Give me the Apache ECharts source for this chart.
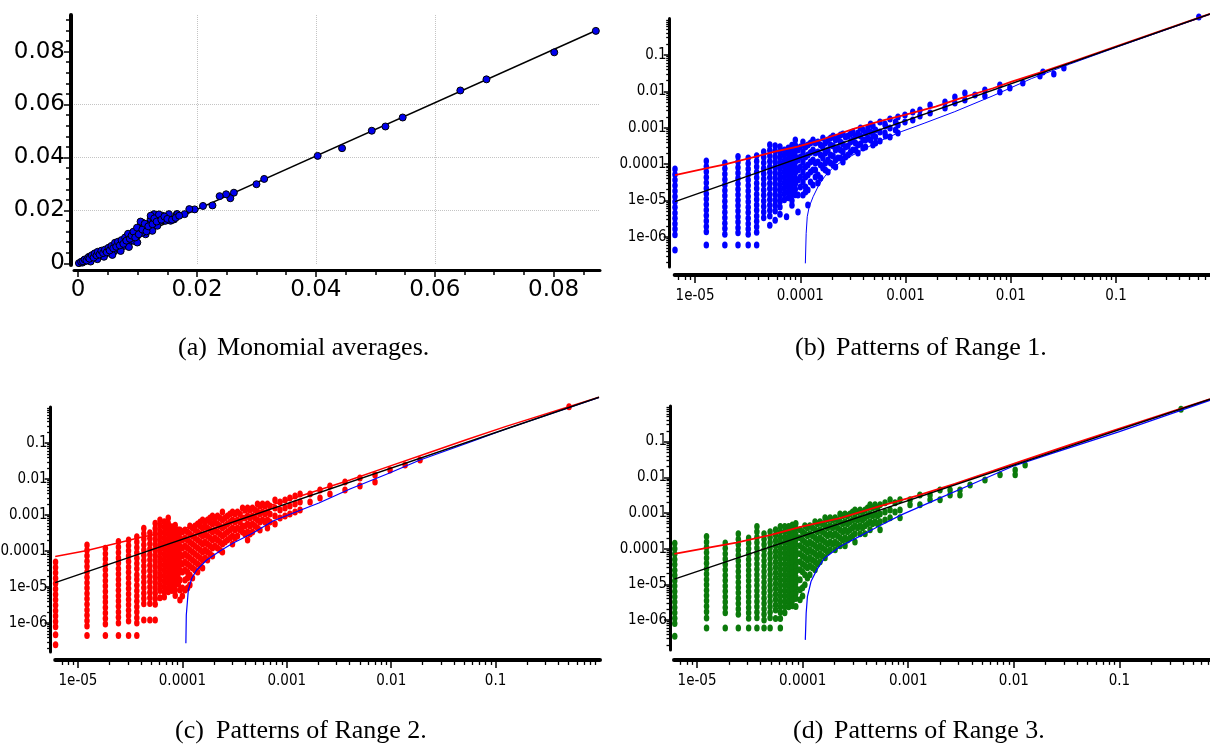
<!DOCTYPE html>
<html><head><meta charset="utf-8">
<script src="https://cdn.jsdelivr.net/npm/echarts@6/dist/echarts.min.js"></script>
<style>html,body{margin:0;padding:0;background:#fff;}#c{width:1210px;height:744px;}</style>
</head><body><div id="c"></div>
<script>
// ---------- tick labels ----------
const aTicks = [0, 0.02, 0.04, 0.06, 0.08];
const logXTicks = [1e-5, 1e-4, 1e-3, 1e-2, 1e-1];
const logYTicks = [1e-6, 1e-5, 1e-4, 1e-3, 1e-2, 1e-1];
const logMinorTicks = [2e-7,3e-7,4e-7,5e-7,6e-7,7e-7,8e-7,9e-7,2e-6,3e-6,4e-6,5e-6,6e-6,7e-6,8e-6,9e-6,
  2e-5,3e-5,4e-5,5e-5,6e-5,7e-5,8e-5,9e-5,2e-4,3e-4,4e-4,5e-4,6e-4,7e-4,8e-4,9e-4,
  2e-3,3e-3,4e-3,5e-3,6e-3,7e-3,8e-3,9e-3,0.02,0.03,0.04,0.05,0.06,0.07,0.08,0.09,0.2,0.3,0.4,0.5,0.6,0.7,0.8,0.9];
const captions = [
  ['(a)', 'Monomial averages.'],
  ['(b)', 'Patterns of Range 1.'],
  ['(c)', 'Patterns of Range 2.'],
  ['(d)', 'Patterns of Range 3.']
];

// ---------- panel (a) ----------
const aPoints = [
 [0.0871,0.0878],[0.0801,0.0797],[0.0687,0.0695],[0.0643,0.0653],[0.0546,0.0551],[0.0517,0.0517],[0.0494,0.0501],[0.0444,0.0435],[0.0403,0.0406],[0.0313,0.0319],[0.0300,0.0299],[0.0262,0.0267],[0.0256,0.0246],[0.0249,0.0261],[0.0238,0.0254],[0.0226,0.0219],[0.0210,0.0217],[0.0196,0.0204],[0.0187,0.0205],[0.0179,0.0186],[0.0166,0.0186],[0.0161,0.0166],
 [0.00013,0.0001],[0.00071,0.0003],[0.00126,0.0009],[0.00155,0.0016],[0.0021,0.002],[0.00098,0.0012],[0.00182,0.0025],[0.00239,0.0028],[0.00266,0.0035],[0.00323,0.0037],[0.00294,0.0025],[0.00378,0.0041],[0.00434,0.0043],[0.0035,0.0028],[0.00407,0.0035],[0.00491,0.0047],[0.00546,0.005],[0.00462,0.0037],[0.00518,0.0041],[0.00575,0.0054],[0.00602,0.0045],[0.00659,0.006],[0.00631,0.007],[0.00715,0.0073],[0.00686,0.0054],[0.0077,0.0066],[0.00743,0.0083],[0.00799,0.0091],[0.00827,0.0104],[0.00854,0.0079],[0.00883,0.011],[0.00911,0.0098],[0.00938,0.0085],[0.00967,0.0116],[0.00995,0.0104],[0.01022,0.0123],[0.01051,0.0142],[0.0108,0.0154],[0.01106,0.0135],[0.01135,0.011],[0.01164,0.0148],[0.0119,0.0129],[0.01219,0.0167],[0.01248,0.0123],[0.01275,0.0186],[0.01303,0.0154],[0.01332,0.0142],[0.01359,0.0173],[0.01387,0.0161],[0.01416,0.018],[0.01443,0.0167],[0.01471,0.0161],[0.015,0.0173],[0.01527,0.0186],[0.01555,0.0161],[0.01611,0.0167],[0.01668,0.0186],[0.01275,0.0161],[0.0108,0.0116],[0.00995,0.0079],[0.00854,0.0062],[0.00715,0.0047],[0.00575,0.0032],[0.00434,0.0025],[0.00323,0.0016],[0.0021,0.0007],
 [0.0005,0.0006],[0.0008,0.0008],[0.0011,0.0015],[0.0014,0.0011],[0.0017,0.0022],[0.0019,0.0018],[0.0023,0.0031],[0.0026,0.0022],[0.0028,0.0038],[0.0031,0.0030],[0.0033,0.0044],[0.0036,0.0034],[0.0039,0.0048],[0.0042,0.0039],[0.0045,0.0052],[0.0048,0.0042],[0.0051,0.0059],[0.0053,0.0049],[0.0056,0.0066],[0.0059,0.0057],[0.0062,0.0078],[0.0064,0.0063],[0.0067,0.0082],[0.0070,0.0068],[0.0073,0.0088],[0.0076,0.0074],[0.0079,0.0098],[0.0081,0.0086],[0.0084,0.0112],[0.0087,0.0093],[0.0090,0.0105],[0.0093,0.0120],[0.0096,0.0098],[0.0099,0.0135],[0.0102,0.0110],[0.0105,0.0158],[0.0108,0.0128],[0.0112,0.0150],[0.0115,0.0121],[0.0118,0.0140],[0.0122,0.0180],[0.0125,0.0148],[0.0128,0.0170],[0.0132,0.0158],[0.0136,0.0185],[0.0140,0.0165],[0.0145,0.0177],[0.0150,0.0168],[0.0158,0.0165],[0.0164,0.0172],[0.0170,0.0180]
];
const aLine = [[0, 0.0003], [0.0876, 0.0884]];

// ---------- panel (b) ----------
const bColX = [6.45e-6,1.28e-5,1.92e-5,2.56e-5,3.2e-5,3.85e-5,4.49e-5,5.13e-5,5.77e-5,6.41e-5,7.05e-5,7.69e-5,8.33e-5,8.97e-5];
const bColY = [
 [7.4e-5,5.2e-5,3.7e-5,2.6e-5,1.85e-5,1.3e-5,9.3e-6,6.6e-6,4.6e-6,3.3e-6,2.3e-6,1.65e-6,1.15e-6,4.4e-7],
 [1.23e-4,8.7e-5,6.2e-5,4.4e-5,3.1e-5,2.2e-5,1.55e-5,1.1e-5,7.8e-6,5.5e-6,3.9e-6,2.75e-6,1.95e-6,1.4e-6,6e-7],
 [1.08e-4,7.6e-5,5.4e-5,3.8e-5,2.7e-5,1.9e-5,1.35e-5,9.6e-6,6.8e-6,4.8e-6,3.4e-6,2.4e-6,1.7e-6,1.2e-6,6e-7],
 [1.62e-4,1.15e-4,8.1e-5,5.7e-5,4.1e-5,2.9e-5,2.05e-5,1.45e-5,1.03e-5,7.3e-6,5.2e-6,3.6e-6,2.6e-6,1.8e-6,1.3e-6,6e-7],
 [1.48e-4,1.05e-4,7.4e-5,5.2e-5,3.7e-5,2.6e-5,1.85e-5,1.3e-5,9.3e-6,6.6e-6,4.7e-6,3.3e-6,2.3e-6,1.65e-6,1.2e-6,6e-7],
 [1.7e-4,1.2e-4,8.5e-5,6e-5,4.3e-5,3e-5,2.15e-5,1.5e-5,1.07e-5,7.6e-6,5.4e-6,3.8e-6,2.7e-6,1.9e-6,1.35e-6,6e-7],
 [2.2e-4,1.55e-4,1.1e-4,7.8e-5,5.5e-5,3.9e-5,2.8e-5,1.95e-5,1.4e-5,9.8e-6,6.9e-6,4.9e-6,3.4e-6],
 [3.4e-4,2.4e-4,1.7e-4,1.2e-4,8.5e-5,6e-5,4.3e-5,3e-5,2.15e-5,1.5e-5,1.07e-5,7.6e-6,5.4e-6,3.8e-6,2.1e-6],
 [3.2e-4,2.3e-4,1.6e-4,1.15e-4,8.1e-5,5.7e-5,4.1e-5,2.9e-5,2.05e-5,1.45e-5,1.03e-5,7.3e-6,5.2e-6,2.9e-6],
 [3e-4,2.1e-4,1.5e-4,1.06e-4,7.5e-5,5.3e-5,3.8e-5,2.7e-5,1.9e-5,1.33e-5,9.4e-6,6.7e-6,4.2e-6],
 [2.45e-4,1.75e-4,1.25e-4,8.8e-5,6.2e-5,4.4e-5,3.1e-5,2.2e-5,1.55e-5,1.05e-5],
 [2.8e-4,2e-4,1.4e-4,1e-4,7e-5,5e-5,3.5e-5,2.5e-5,1.75e-5,1.2e-5],
 [3.3e-4,2.3e-4,1.65e-4,1.15e-4,8.2e-5,5.8e-5,4.1e-5,2.9e-5,2.05e-5,1.45e-5,1e-5,7.4e-6],
 [4.6e-4,3.3e-4,2.3e-4,1.65e-4,1.15e-4,8.2e-5,5.8e-5,4.1e-5,2.9e-5,2.05e-5,1.45e-5]
];
const bCloud = [
 [9.51e-5,2.45e-4],[9.51e-5,1.30e-4],[9.51e-5,6.93e-5],[9.51e-5,3.68e-5],[9.51e-5,1.43e-5],[9.51e-5,4.86e-6],
 [1.0e-4,2.97e-4],[1.0e-4,1.58e-4],[1.0e-4,8.37e-5],[1.0e-4,4.45e-5],[1.0e-4,2.36e-5],
 [1.06e-4,4.07e-4],[1.06e-4,2.16e-4],[1.06e-4,1.15e-4],[1.06e-4,6.11e-5],[1.06e-4,3.24e-5],[1.06e-4,1.43e-5],
 [1.12e-4,2.97e-4],[1.12e-4,1.58e-4],[1.12e-4,8.37e-5],[1.12e-4,4.45e-5],[1.12e-4,2.36e-5],[1.12e-4,1.72e-5],
 [1.18e-4,3.37e-4],[1.18e-4,1.79e-4],[1.18e-4,9.51e-5],[1.18e-4,5.05e-5],[1.18e-4,1.95e-5],[1.18e-4,7.57e-6],
 [1.25e-4,3.82e-4],[1.25e-4,2.09e-4],[1.25e-4,1.15e-4],[1.25e-4,6.11e-5],[1.25e-4,3.24e-5],
 [1.32e-4,4.62e-4],[1.32e-4,2.45e-4],[1.32e-4,1.30e-4],[1.32e-4,6.93e-5],[1.32e-4,2.68e-5],
 [1.39e-4,3.82e-4],[1.39e-4,2.03e-4],[1.39e-4,1.08e-4],[1.39e-4,6.93e-5],[1.39e-4,4.45e-5],
 [1.47e-4,4.07e-4],[1.47e-4,2.16e-4],[1.47e-4,1.15e-4],[1.47e-4,5.05e-5],[1.47e-4,3.05e-5],
 [1.56e-4,3.37e-4],[1.56e-4,1.79e-4],[1.56e-4,9.51e-5],[1.56e-4,4.18e-5],
 [1.64e-4,5.25e-4],[1.64e-4,2.79e-4],[1.64e-4,1.48e-4],[1.64e-4,7.86e-5],
 [1.73e-4,3.82e-4],[1.73e-4,2.03e-4],[1.73e-4,1.08e-4],[1.73e-4,6.93e-5],
 [1.83e-4,4.62e-4],[1.83e-4,2.45e-4],[1.83e-4,1.30e-4],[1.83e-4,6.11e-5],
 [1.94e-4,5.25e-4],[1.94e-4,3.37e-4],[1.94e-4,1.79e-4],[1.94e-4,1.08e-4],
 [2.05e-4,5.96e-4],[2.05e-4,3.16e-4],[2.05e-4,1.68e-4],[2.05e-4,9.51e-5],
 [2.16e-4,4.62e-4],[2.16e-4,2.45e-4],[2.16e-4,1.30e-4],[2.16e-4,8.37e-5],
 [2.28e-4,5.25e-4],[2.28e-4,2.79e-4],[2.28e-4,1.48e-4],
 [2.41e-4,6.34e-4],[2.41e-4,4.07e-4],[2.41e-4,2.45e-4],[2.41e-4,1.48e-4],
 [2.54e-4,6.76e-4],[2.54e-4,3.59e-4],[2.54e-4,2.16e-4],[2.54e-4,1.15e-4],
 [2.69e-4,5.59e-4],[2.69e-4,2.97e-4],[2.69e-4,1.58e-4],
 [2.84e-4,5.96e-4],[2.84e-4,3.16e-4],[2.84e-4,1.79e-4],
 [3.0e-4,6.76e-4],[3.0e-4,4.07e-4],[3.0e-4,2.16e-4],
 [3.16e-4,7.67e-4],[3.16e-4,4.62e-4],[3.16e-4,2.45e-4],
 [3.34e-4,5.96e-4],[3.34e-4,3.82e-4],[3.34e-4,2.45e-4],
 [3.53e-4,7.20e-4],[3.53e-4,3.37e-4],[3.53e-4,2.03e-4],
 [3.73e-4,9.88e-4],[3.73e-4,5.96e-4],[3.73e-4,3.59e-4],
 [3.94e-4,8.71e-4],[3.94e-4,4.62e-4],[3.94e-4,2.79e-4],
 [4.16e-4,7.20e-4],[4.16e-4,4.62e-4],[4.16e-4,2.97e-4],
 [4.39e-4,9.88e-4],[4.39e-4,5.25e-4],
 [4.65e-4,1.27e-3],[4.65e-4,7.67e-4],[4.65e-4,4.62e-4],
 [4.90e-4,1.12e-3],[4.90e-4,6.34e-4],[4.90e-4,3.37e-4],
 [5.18e-4,8.71e-4],[5.18e-4,5.59e-4],[5.18e-4,3.82e-4],
 [5.71e-4,1.44e-3],[5.71e-4,7.67e-4],[5.71e-4,4.34e-4],
 [6.37e-4,1.27e-3],[6.37e-4,7.20e-4],
 [6.44e-4,1.12e-3],[6.44e-4,5.96e-4],
 [7.11e-4,1.75e-3],[7.11e-4,9.88e-4],[7.11e-4,5.59e-4],
 [8.02e-4,1.44e-3],[8.02e-4,8.71e-4],
 [8.47e-4,1.98e-3],[8.47e-4,1.19e-3],[8.47e-4,7.20e-4],
 [9.87e-4,2.25e-3],[9.87e-4,1.44e-3],
 [1.17e-3,2.72e-3],[1.17e-3,1.64e-3],
 [1.37e-3,3.08e-3],[1.37e-3,2.11e-3],
 [1.71e-3,4.23e-3],[1.71e-3,2.55e-3],
 [2.37e-3,5.12e-3],[2.37e-3,3.50e-3],
 [2.94e-3,7.02e-3],[2.94e-3,4.80e-3],
 [3.66e-3,9.04e-3],[3.66e-3,5.81e-3],
 [4.56e-3,7.96e-3],
 [5.67e-3,1.09e-2],[5.67e-3,7.48e-3],
 [7.87e-3,1.50e-2],[7.87e-3,9.63e-3],
 [9.79e-3,1.24e-2],[1.30e-2,1.70e-2],[1.89e-2,2.65e-2],[2.02e-2,3.41e-2],[2.56e-2,3.01e-2],[3.19e-2,4.40e-2],
 [7.4e-5,3.6e-6],[0.611,1.11]
];
const bRed = [[6.45e-6,5.05e-5],[1.27e-5,7.71e-5],[1.93e-5,9.93e-5],[3.77e-5,1.61e-4],[5.73e-5,2.20e-4],[9.44e-5,3.03e-4],[1.56e-4,4.62e-4],[3.32e-4,9.68e-4],[5.97e-4,1.57e-3],[9.86e-4,2.25e-3],[1.93e-3,3.80e-3],[3.47e-3,6.71e-3],[6.76e-3,1.22e-2],[1.02e-2,1.85e-2],[2.02e-2,3.48e-2],[3.62e-2,6.2e-2],[9.89e-2,0.17],[0.78,1.34]];
const bBlack = [[6.45e-6,9.4e-6],[0.78,1.34]];
const bBlue = [[1.117e-4,1.89e-7],[1.137e-4,1.26e-6],[1.164e-4,3.61e-6],[1.215e-4,6.80e-6],[1.324e-4,1.28e-5],[1.50e-4,2.68e-5],[1.70e-4,4.54e-5],[2.01e-4,7.71e-5],[2.58e-4,1.30e-4],[3.61e-4,2.20e-4],[5.49e-4,4.15e-4],[9.08e-4,7.82e-4],[1.50e-3,1.33e-3],[2.93e-3,2.77e-3],[6.78e-3,7.6e-3],[1.57e-2,2.25e-2],[3.62e-2,5.6e-2],[9.89e-2,0.16],[0.78,1.32]];

// ---------- panel (c) ----------
const cColX = [6.1e-6,1.22e-5,1.83e-5,2.44e-5,3.05e-5,3.66e-5,4.27e-5,4.88e-5,5.49e-5,6.1e-5,6.71e-5,7.32e-5,7.93e-5,8.54e-5,9.15e-5];
const cColY = [
 [4.9e-5,3.5e-5,2.5e-5,1.75e-5,1.25e-5,8.8e-6,6.2e-6,4.4e-6,3.1e-6,2.2e-6,1.55e-6,1.1e-6,7.8e-7,4.7e-7,2.5e-7],
 [1.47e-4,1.04e-4,7.4e-5,5.2e-5,3.7e-5,2.6e-5,1.85e-5,1.3e-5,9.3e-6,6.6e-6,4.7e-6,3.3e-6,2.3e-6,1.65e-6,1.15e-6,8.2e-7,4.5e-7],
 [1.19e-4,8.4e-5,6e-5,4.2e-5,3e-5,2.1e-5,1.5e-5,1.06e-5,7.5e-6,5.3e-6,3.8e-6,2.7e-6,1.9e-6,1.33e-6,9.4e-7,4.5e-7],
 [1.82e-4,1.29e-4,9.1e-5,6.4e-5,4.6e-5,3.2e-5,2.3e-5,1.6e-5,1.15e-5,8.1e-6,5.7e-6,4.1e-6,2.9e-6,2e-6,1.45e-6,1e-6,4.5e-7],
 [2.02e-4,1.43e-4,1.01e-4,7.2e-5,5.1e-5,3.6e-5,2.55e-5,1.8e-5,1.27e-5,9e-6,6.4e-6,4.5e-6,3.2e-6,2.25e-6,1.6e-6,1.13e-6,4.5e-7],
 [2.5e-4,1.77e-4,1.25e-4,8.9e-5,6.3e-5,4.5e-5,3.2e-5,2.2e-5,1.6e-5,1.12e-5,7.9e-6,5.6e-6,4e-6,2.8e-6,2e-6,1.4e-6,1e-6,4.5e-7],
 [4.3e-4,3e-4,2.15e-4,1.5e-4,1.07e-4,7.6e-5,5.4e-5,3.8e-5,2.7e-5,1.9e-5,1.35e-5,9.5e-6,6.7e-6,4.8e-6,3.4e-6,1.2e-6],
 [3.2e-4,2.25e-4,1.6e-4,1.13e-4,8e-5,5.7e-5,4e-5,2.85e-5,2e-5,1.42e-5,1e-5,7.1e-6,5e-6,3.5e-6,1.2e-6],
 [5.9e-4,4.2e-4,3e-4,2.1e-4,1.5e-4,1.05e-4,7.4e-5,5.3e-5,3.7e-5,2.6e-5,1.85e-5,1.3e-5,9.3e-6,6.6e-6,4.7e-6,3.3e-6,1.2e-6],
 [7.2e-4,5.1e-4,3.6e-4,2.55e-4,1.8e-4,1.28e-4,9e-5,6.4e-5,4.5e-5,3.2e-5,2.25e-5,1.6e-5,1.13e-5,8e-6,5e-6],
 [6.5e-4,4.6e-4,3.25e-4,2.3e-4,1.63e-4,1.15e-4,8.1e-5,5.8e-5,4.1e-5,2.9e-5,2.05e-5,1.45e-5,1.02e-5,7.2e-6,5.3e-6],
 [8.3e-4,5.9e-4,4.2e-4,2.95e-4,2.1e-4,1.48e-4,1.05e-4,7.4e-5,5.2e-5,3.7e-5,2.6e-5,1.85e-5,1.3e-5,9.2e-6,7.4e-6],
 [4.7e-4,3.35e-4,2.35e-4,1.67e-4,1.18e-4,8.4e-5,5.9e-5,4.2e-5,3e-5,2.1e-5,1.5e-5,1.06e-5,8e-6],
 [5.2e-4,3.7e-4,2.6e-4,1.85e-4,1.3e-4,9.2e-5,6.5e-5,4.6e-5,3.3e-5,2.3e-5,1.63e-5,1.15e-5,8.2e-6,5.8e-6],
 [3.8e-4,2.7e-4,1.9e-4,1.35e-4,9.5e-5,6.7e-5,4.8e-5,3.4e-5,2.4e-5,1.7e-5,1.2e-5]
];
const cCloud = [
 [9.48e-5,3.83e-4],[9.48e-5,2.30e-4],[9.48e-5,1.38e-4],[9.48e-5,8.26e-5],[9.48e-5,4.95e-5],[9.48e-5,2.97e-5],[9.48e-5,1.56e-5],[9.48e-5,8.26e-6],[9.48e-5,4.35e-6],
 [1.0e-4,3.37e-4],[1.0e-4,2.02e-4],[1.0e-4,1.21e-4],[1.0e-4,7.26e-5],[1.0e-4,4.35e-5],[1.0e-4,2.61e-5],[1.0e-4,9.38e-6],[1.0e-4,5.62e-6],
 [1.06e-4,3.83e-4],[1.06e-4,2.30e-4],[1.06e-4,1.38e-4],[1.06e-4,8.26e-5],[1.06e-4,4.95e-5],[1.06e-4,2.97e-5],[1.06e-4,1.56e-5],[1.06e-4,8.26e-6],
 [1.12e-4,3.37e-4],[1.12e-4,2.02e-4],[1.12e-4,1.21e-4],[1.12e-4,7.26e-5],[1.12e-4,4.35e-5],[1.12e-4,2.61e-5],[1.12e-4,1.78e-5],[1.12e-4,9.38e-6],
 [1.18e-4,4.95e-4],[1.18e-4,2.97e-4],[1.18e-4,1.78e-4],[1.18e-4,1.07e-4],[1.18e-4,6.39e-5],[1.18e-4,3.83e-5],[1.18e-4,2.15e-5],[1.18e-4,1.14e-5],
 [1.25e-4,4.35e-4],[1.25e-4,2.61e-4],[1.25e-4,1.56e-4],[1.25e-4,9.38e-5],[1.25e-4,5.62e-5],[1.25e-4,3.37e-5],[1.25e-4,1.78e-5],
 [1.32e-4,4.95e-4],[1.32e-4,3.83e-4],[1.32e-4,2.30e-4],[1.32e-4,1.38e-4],[1.32e-4,8.26e-5],[1.32e-4,4.95e-5],[1.32e-4,2.97e-5],
 [1.40e-4,5.62e-4],[1.40e-4,3.37e-4],[1.40e-4,2.02e-4],[1.40e-4,1.21e-4],[1.40e-4,7.26e-5],[1.40e-4,4.35e-5],[1.40e-4,2.61e-5],
 [1.48e-4,6.39e-4],[1.48e-4,4.95e-4],[1.48e-4,2.97e-4],[1.48e-4,1.78e-4],[1.48e-4,1.07e-4],[1.48e-4,6.39e-5],[1.48e-4,3.83e-5],
 [1.56e-4,7.26e-4],[1.56e-4,4.35e-4],[1.56e-4,2.61e-4],[1.56e-4,1.56e-4],[1.56e-4,9.38e-5],[1.56e-4,5.62e-5],[1.56e-4,3.37e-5],
 [1.65e-4,6.39e-4],[1.65e-4,4.95e-4],[1.65e-4,2.97e-4],[1.65e-4,1.78e-4],[1.65e-4,1.07e-4],[1.65e-4,6.39e-5],
 [1.74e-4,7.26e-4],[1.74e-4,4.35e-4],[1.74e-4,2.61e-4],[1.74e-4,1.56e-4],[1.74e-4,9.38e-5],[1.74e-4,5.62e-5],
 [1.84e-4,8.26e-4],[1.84e-4,6.39e-4],[1.84e-4,3.83e-4],[1.84e-4,2.30e-4],[1.84e-4,1.38e-4],[1.84e-4,8.26e-5],
 [1.94e-4,9.38e-4],[1.94e-4,5.62e-4],[1.94e-4,3.37e-4],[1.94e-4,2.02e-4],[1.94e-4,1.21e-4],[1.94e-4,7.26e-5],
 [2.05e-4,8.26e-4],[2.05e-4,6.39e-4],[2.05e-4,3.83e-4],[2.05e-4,2.30e-4],[2.05e-4,1.38e-4],
 [2.17e-4,9.38e-4],[2.17e-4,5.62e-4],[2.17e-4,3.37e-4],[2.17e-4,2.02e-4],[2.17e-4,1.21e-4],
 [2.29e-4,8.26e-4],[2.29e-4,4.95e-4],[2.29e-4,2.97e-4],[2.29e-4,1.78e-4],[2.29e-4,1.07e-4],
 [2.42e-4,1.21e-3],[2.42e-4,7.26e-4],[2.42e-4,4.35e-4],[2.42e-4,2.61e-4],[2.42e-4,1.56e-4],[2.42e-4,9.38e-5],
 [2.56e-4,8.26e-4],[2.56e-4,4.95e-4],[2.56e-4,2.97e-4],[2.56e-4,1.78e-4],
 [2.70e-4,9.38e-4],[2.70e-4,5.62e-4],[2.70e-4,3.37e-4],[2.70e-4,2.02e-4],
 [2.86e-4,1.07e-3],[2.86e-4,6.39e-4],[2.86e-4,3.83e-4],[2.86e-4,2.30e-4],
 [3.02e-4,1.21e-3],[3.02e-4,7.26e-4],[3.02e-4,4.35e-4],[3.02e-4,2.61e-4],[3.02e-4,1.56e-4],
 [3.19e-4,1.07e-3],[3.19e-4,6.39e-4],[3.19e-4,3.83e-4],[3.19e-4,2.30e-4],
 [3.37e-4,1.21e-3],[3.37e-4,7.26e-4],[3.37e-4,4.35e-4],[3.37e-4,2.61e-4],
 [3.56e-4,1.07e-3],[3.56e-4,6.39e-4],[3.56e-4,3.83e-4],
 [3.77e-4,1.56e-3],[3.77e-4,8.26e-4],[3.77e-4,4.95e-4],[3.77e-4,3.37e-4],
 [3.98e-4,1.38e-3],[3.98e-4,8.26e-4],[3.98e-4,4.95e-4],[3.98e-4,2.97e-4],
 [4.21e-4,1.56e-3],[4.21e-4,9.38e-4],[4.21e-4,5.62e-4],[4.21e-4,3.37e-4],[4.21e-4,2.02e-4],
 [4.44e-4,1.38e-3],[4.44e-4,8.26e-4],[4.44e-4,4.95e-4],[4.44e-4,2.97e-4],
 [4.69e-4,1.56e-3],[4.69e-4,9.38e-4],[4.69e-4,5.62e-4],[4.69e-4,3.37e-4],
 [4.96e-4,1.38e-3],[4.96e-4,8.26e-4],[4.96e-4,4.95e-4],
 [5.24e-4,2.02e-3],[5.24e-4,1.21e-3],[5.24e-4,7.26e-4],[5.24e-4,4.35e-4],
 [5.53e-4,1.78e-3],[5.53e-4,1.07e-3],[5.53e-4,6.39e-4],[5.53e-4,3.83e-4],
 [5.85e-4,2.02e-3],[5.85e-4,1.21e-3],[5.85e-4,7.26e-4],
 [6.18e-4,1.78e-3],[6.18e-4,1.07e-3],[6.18e-4,6.39e-4],
 [6.53e-4,2.02e-3],[6.53e-4,1.21e-3],[6.53e-4,7.26e-4],[6.53e-4,4.35e-4],
 [6.90e-4,1.78e-3],[6.90e-4,1.07e-3],[6.90e-4,6.39e-4],
 [7.71e-4,2.61e-3],[7.71e-4,1.56e-3],[7.71e-4,9.38e-4],[7.71e-4,5.62e-4],
 [8.61e-4,2.30e-3],[8.61e-4,1.38e-3],[8.61e-4,8.26e-4],
 [9.62e-4,2.61e-3],[9.62e-4,1.56e-3],[9.62e-4,9.38e-4],
 [1.07e-3,2.97e-3],[1.07e-3,1.78e-3],[1.07e-3,1.07e-3],
 [1.20e-3,3.37e-3],[1.20e-3,2.02e-3],[1.20e-3,1.21e-3],
 [1.34e-3,3.83e-3],[1.34e-3,2.30e-3],[1.34e-3,1.38e-3],
 [1.67e-3,3.83e-3],[1.67e-3,2.30e-3],
 [2.08e-3,4.95e-3],[2.08e-3,2.97e-3],
 [2.59e-3,6.39e-3],[2.59e-3,3.83e-3],
 [3.61e-3,8.26e-3],[3.61e-3,4.95e-3],
 [5.02e-3,1.07e-2],[5.02e-3,6.39e-3],
 [7.00e-3,1.29e-2],[7.00e-3,8.26e-3],
 [9.75e-3,1.78e-2],[1.36e-2,2.45e-2],[1.89e-2,3.37e-2],
 [0.505,1.02]
];
const cRed = [[6.05e-6,7.0e-5],[1.19e-5,1.02e-4],[2.35e-5,1.64e-4],[4.2e-5,2.49e-4],[9.3e-5,3.8e-4],[2.01e-4,7.6e-4],[4.35e-4,1.24e-3],[1.03e-3,2.61e-3],[2.03e-3,4.95e-3],[4.03e-3,9.38e-3],[9.52e-3,2.24e-2],[2.25e-2,5.3e-2],[5.32e-2,0.125],[0.126,0.29],[0.978,1.86]];
const cBlack = [[6.05e-6,1.32e-5],[0.978,1.86]];
const cBlue = [[1.08e-4,2.73e-7],[1.09e-4,1.67e-6],[1.12e-4,4.35e-6],[1.14e-4,8.26e-6],[1.23e-4,1.75e-5],[1.37e-4,2.97e-5],[1.71e-4,5.62e-5],[2.29e-4,1e-4],[3.07e-4,1.67e-4],[4.75e-4,3.16e-4],[7.38e-4,6.81e-4],[1.22e-3,1.21e-3],[2.03e-3,2.15e-3],[4.03e-3,5.27e-3],[9.52e-3,1.44e-2],[1.89e-2,3.37e-2],[5.32e-2,9.81e-2],[0.126,0.245],[0.978,1.84]];

// ---------- panel (d) ----------
const dColX = [6.15e-6,1.23e-5,1.85e-5,2.46e-5,3.08e-5,3.69e-5,4.31e-5,4.92e-5,5.54e-5,6.15e-5,6.77e-5,7.38e-5,8.0e-5,8.62e-5];
const dColY = [
 [1.43e-4,1e-4,7.1e-5,5e-5,3.6e-5,2.5e-5,1.8e-5,1.27e-5,9e-6,6.3e-6,4.5e-6,3.2e-6,2.25e-6,1.6e-6,1.13e-6,8e-7,3.5e-7],
 [2.2e-4,1.55e-4,1.1e-4,7.8e-5,5.5e-5,3.9e-5,2.75e-5,1.95e-5,1.38e-5,9.8e-6,6.9e-6,4.9e-6,3.5e-6,2.45e-6,1.7e-6,1.15e-6,6e-7],
 [1.44e-4,1.02e-4,7.2e-5,5.1e-5,3.6e-5,2.55e-5,1.8e-5,1.28e-5,9e-6,6.4e-6,4.5e-6,3.2e-6,2.25e-6,1.6e-6,6e-7],
 [2.6e-4,1.84e-4,1.3e-4,9.2e-5,6.5e-5,4.6e-5,3.25e-5,2.3e-5,1.63e-5,1.15e-5,8.2e-6,5.8e-6,4.1e-6,2.9e-6,2.05e-6,1.45e-6,6e-7],
 [2e-4,1.42e-4,1e-4,7.1e-5,5e-5,3.55e-5,2.5e-5,1.78e-5,1.26e-5,8.9e-6,6.3e-6,4.5e-6,3.2e-6,2.25e-6,1.6e-6,1.13e-6,6e-7],
 [4.2e-4,3e-4,2.1e-4,1.5e-4,1.05e-4,7.4e-5,5.3e-5,3.7e-5,2.65e-5,1.87e-5,1.32e-5,9.4e-6,6.6e-6,4.7e-6,3.3e-6,2.35e-6,1.65e-6,1.17e-6,6e-7],
 [2.6e-4,1.84e-4,1.3e-4,9.2e-5,6.5e-5,4.6e-5,3.25e-5,2.3e-5,1.63e-5,1.15e-5,8.2e-6,5.8e-6,4.1e-6,2.9e-6,2.05e-6,1.45e-6,1e-6,6e-7],
 [3e-4,2.1e-4,1.5e-4,1.06e-4,7.5e-5,5.3e-5,3.75e-5,2.65e-5,1.9e-5,1.33e-5,9.4e-6,6.7e-6,4.7e-6,3.3e-6,2.35e-6,1.65e-6,1.17e-6,6e-7],
 [3.4e-4,2.4e-4,1.7e-4,1.2e-4,8.5e-5,6e-5,4.25e-5,3e-5,2.1e-5,1.5e-5,1.06e-5,7.5e-6,5.3e-6,3.75e-6,2.65e-6,1.9e-6,1.1e-6],
 [4.2e-4,3e-4,2.1e-4,1.5e-4,1.05e-4,7.4e-5,5.3e-5,3.7e-5,2.65e-5,1.87e-5,1.32e-5,9.4e-6,6.6e-6,4.7e-6,3.3e-6,2.35e-6,1.65e-6,1.1e-6,6e-7],
 [4.2e-4,3e-4,2.1e-4,1.5e-4,1.05e-4,7.4e-5,5.3e-5,3.7e-5,2.65e-5,1.87e-5,1.32e-5,9.4e-6,6.6e-6,4.7e-6,3.3e-6,2.35e-6,1.6e-6],
 [4.2e-4,3e-4,2.1e-4,1.5e-4,1.05e-4,7.4e-5,5.3e-5,3.7e-5,2.65e-5,1.87e-5,1.32e-5,9.4e-6,6.6e-6,4.7e-6,3.3e-6,2.35e-6],
 [4.6e-4,3.25e-4,2.3e-4,1.63e-4,1.15e-4,8.1e-5,5.8e-5,4.1e-5,2.9e-5,2.05e-5,1.45e-5,1.02e-5,7.2e-6,5.1e-6,3.6e-6,2.5e-6],
 [5.1e-4,3.6e-4,2.55e-4,1.8e-4,1.28e-4,9e-5,6.4e-5,4.5e-5,3.2e-5,2.25e-5,1.6e-5,1.13e-5,8e-6,5.6e-6,4e-6,2.4e-6]
];
const dCloud = [
 [9.44e-5,3.37e-4],[9.44e-5,2.01e-4],[9.44e-5,1.20e-4],[9.44e-5,7.16e-5],[9.44e-5,4.28e-5],[9.44e-5,2.55e-5],[9.44e-5,1.34e-5],[9.44e-5,7.02e-6],[9.44e-5,3.68e-6],
 [9.98e-5,2.96e-4],[9.98e-5,1.76e-4],[9.98e-5,1.05e-4],[9.98e-5,6.28e-5],[9.98e-5,3.75e-5],[9.98e-5,2.24e-5],[9.98e-5,7.98e-6],[9.98e-5,4.76e-6],
 [1.05e-4,4.36e-4],[1.05e-4,2.60e-4],[1.05e-4,1.55e-4],[1.05e-4,9.27e-5],[1.05e-4,5.54e-5],[1.05e-4,3.31e-5],[1.05e-4,1.85e-5],[1.05e-4,9.69e-6],
 [1.11e-4,3.83e-4],[1.11e-4,2.29e-4],[1.11e-4,1.36e-4],[1.11e-4,8.13e-5],[1.11e-4,4.85e-5],[1.11e-4,2.90e-5],[1.11e-4,1.52e-5],
 [1.17e-4,4.36e-4],[1.17e-4,2.60e-4],[1.17e-4,1.55e-4],[1.17e-4,9.27e-5],[1.17e-4,5.54e-5],[1.17e-4,3.31e-5],[1.17e-4,1.85e-5],
 [1.24e-4,3.83e-4],[1.24e-4,2.29e-4],[1.24e-4,1.36e-4],[1.24e-4,8.13e-5],[1.24e-4,4.85e-5],[1.24e-4,2.90e-5],
 [1.31e-4,5.64e-4],[1.31e-4,3.37e-4],[1.31e-4,2.01e-4],[1.31e-4,1.20e-4],[1.31e-4,7.16e-5],[1.31e-4,4.28e-5],[1.31e-4,2.55e-5],
 [1.38e-4,4.96e-4],[1.38e-4,2.96e-4],[1.38e-4,1.76e-4],[1.38e-4,1.05e-4],[1.38e-4,6.28e-5],[1.38e-4,3.75e-5],
 [1.46e-4,5.64e-4],[1.46e-4,3.37e-4],[1.46e-4,2.01e-4],[1.46e-4,1.20e-4],[1.46e-4,7.16e-5],[1.46e-4,4.28e-5],
 [1.54e-4,4.96e-4],[1.54e-4,2.96e-4],[1.54e-4,1.76e-4],[1.54e-4,1.05e-4],[1.54e-4,6.28e-5],
 [1.63e-4,7.30e-4],[1.63e-4,4.36e-4],[1.63e-4,2.60e-4],[1.63e-4,1.55e-4],[1.63e-4,9.27e-5],[1.63e-4,5.54e-5],
 [1.72e-4,6.41e-4],[1.72e-4,3.83e-4],[1.72e-4,2.29e-4],[1.72e-4,1.36e-4],[1.72e-4,8.13e-5],
 [1.82e-4,7.30e-4],[1.82e-4,4.36e-4],[1.82e-4,2.60e-4],[1.82e-4,1.55e-4],[1.82e-4,9.27e-5],
 [1.92e-4,6.41e-4],[1.92e-4,3.83e-4],[1.92e-4,2.29e-4],[1.92e-4,1.36e-4],
 [2.03e-4,7.30e-4],[2.03e-4,4.36e-4],[2.03e-4,2.60e-4],[2.03e-4,1.55e-4],[2.03e-4,9.27e-5],
 [2.14e-4,6.41e-4],[2.14e-4,3.83e-4],[2.14e-4,2.29e-4],[2.14e-4,1.36e-4],
 [2.26e-4,9.44e-4],[2.26e-4,5.64e-4],[2.26e-4,3.37e-4],[2.26e-4,2.01e-4],[2.26e-4,1.20e-4],
 [2.39e-4,8.30e-4],[2.39e-4,4.96e-4],[2.39e-4,2.96e-4],[2.39e-4,1.76e-4],
 [2.52e-4,9.44e-4],[2.52e-4,5.64e-4],[2.52e-4,3.37e-4],[2.52e-4,2.01e-4],[2.52e-4,1.20e-4],
 [2.66e-4,8.30e-4],[2.66e-4,4.96e-4],[2.66e-4,2.96e-4],[2.66e-4,1.76e-4],
 [2.81e-4,9.44e-4],[2.81e-4,5.64e-4],[2.81e-4,3.37e-4],[2.81e-4,2.01e-4],
 [2.97e-4,1.07e-3],[2.97e-4,6.41e-4],[2.97e-4,3.83e-4],[2.97e-4,2.29e-4],
 [3.13e-4,1.22e-3],[3.13e-4,7.30e-4],[3.13e-4,4.36e-4],[3.13e-4,2.60e-4],[3.13e-4,1.55e-4],
 [3.31e-4,1.07e-3],[3.31e-4,6.41e-4],[3.31e-4,3.83e-4],
 [3.50e-4,1.22e-3],[3.50e-4,7.30e-4],[3.50e-4,4.36e-4],[3.50e-4,2.60e-4],
 [3.69e-4,1.07e-3],[3.69e-4,6.41e-4],[3.69e-4,3.83e-4],
 [3.90e-4,1.22e-3],[3.90e-4,7.30e-4],[3.90e-4,4.36e-4],[3.90e-4,2.60e-4],
 [4.12e-4,1.39e-3],[4.12e-4,8.30e-4],[4.12e-4,4.96e-4],
 [4.35e-4,1.69e-3],[4.35e-4,9.44e-4],[4.35e-4,5.64e-4],[4.35e-4,3.37e-4],
 [4.59e-4,1.39e-3],[4.59e-4,8.30e-4],[4.59e-4,4.96e-4],
 [4.85e-4,1.69e-3],[4.85e-4,9.44e-4],[4.85e-4,5.64e-4],
 [5.12e-4,1.39e-3],[5.12e-4,8.30e-4],[5.12e-4,4.96e-4],
 [5.41e-4,1.69e-3],[5.41e-4,9.44e-4],[5.41e-4,5.64e-4],[5.41e-4,3.37e-4],
 [6.03e-4,1.92e-3],[6.03e-4,1.07e-3],[6.03e-4,6.41e-4],
 [6.73e-4,2.33e-3],[6.73e-4,1.22e-3],[6.73e-4,7.30e-4],
 [7.50e-4,1.92e-3],[7.50e-4,1.07e-3],
 [8.36e-4,2.33e-3],[8.36e-4,1.22e-3],[8.36e-4,7.30e-4],
 [1.04e-3,2.33e-3],[1.04e-3,1.69e-3],
 [1.29e-3,3.21e-3],[1.29e-3,1.69e-3],
 [1.61e-3,3.21e-3],[1.61e-3,2.33e-3],
 [2.00e-3,4.43e-3],[2.00e-3,2.33e-3],
 [2.49e-3,4.43e-3],[2.49e-3,3.21e-3],
 [3.09e-3,4.43e-3],[3.09e-3,3.21e-3],
 [3.85e-3,6.12e-3],[5.33e-3,8.45e-3],[7.40e-3,1.17e-2],
 [1.03e-2,1.61e-2],[1.03e-2,1.17e-2],[1.28e-2,2.22e-2],
 [0.383,0.81]
];
const dRed = [[6.1e-6,7.14e-5],[1.21e-5,1.03e-4],[2.36e-5,1.48e-4],[5.02e-5,2.44e-4],[9.79e-5,4.16e-4],[2.26e-4,7.15e-4],[5.2e-4,1.51e-3],[1.2e-3,3.01e-3],[2.76e-3,6.53e-3],[6.35e-3,1.51e-2],[1.24e-2,2.97e-2],[3.39e-2,8.09e-2],[0.1,0.23],[0.721,1.54]];
const dBlack = [[6.1e-6,1.4e-5],[0.721,1.54]];
const dBlue = [[1.06e-4,2.79e-7],[1.08e-4,1.56e-6],[1.11e-4,4.55e-6],[1.2e-4,1.2e-5],[1.36e-4,2.55e-5],[1.61e-4,5.42e-5],[2.26e-4,1.15e-4],[3.42e-4,2.18e-4],[5.2e-4,4.16e-4],[8.59e-4,8.85e-4],[1.82e-3,2.33e-3],[4.2e-3,6.84e-3],[9.68e-3,2.0e-2],[2.23e-2,4.52e-2],[0.1,0.19],[0.721,1.43]];

// ---------- build ----------
function colPoints(xs, ys) {
  const out = [];
  xs.forEach((x, i) => ys[i].forEach(y => out.push([x, y])));
  return out;
}
function logFmt(v) {
  const e = Math.round(Math.log10(v));
  return e >= -4 ? Math.pow(10, e).toFixed(-e) : '1e-0' + (-e);
}
const narrow = '"Liberation Sans Narrow","DejaVu Sans Condensed",sans-serif';

const grids = [
  {left: 74, top: 15, width: 526, height: 250},
  {left: 674.7, top: 18.6, width: 535.3, height: 248.4},
  {left: 55.2, top: 407, width: 544.8, height: 245},
  {left: 674, top: 405.9, width: 536, height: 244}
].map(g => Object.assign({containLabel: false, outerBoundsMode: 'none'}, g));

const logPanels = [
  {g: 1, xmin: 6.41e-6, xmax: 0.78, ymin: 1.5e-7, ymax: 1, xoff: 8, yoff: 5},
  {g: 2, xmin: 6.05e-6, xmax: 1.0, ymin: 1.56e-7, ymax: 1, xoff: 8, yoff: 4.6},
  {g: 3, xmin: 6.05e-6, xmax: 0.721, ymin: 1.46e-7, ymax: 1, xoff: 10, yoff: 4}
];

const xAxes = [{
  type: 'value', gridIndex: 0, min: -0.0007, max: 0.0878, offset: 5, position: 'bottom',
  axisLine: {show: true, onZero: false, lineStyle: {color: '#000', width: 3}},
  axisTick: {show: true, customValues: aTicks, length: 7, lineStyle: {color: '#000', width: 1.5}},
  minorTick: {show: true, splitNumber: 4, length: 5, lineStyle: {color: '#000', width: 1.5}},
  axisLabel: {customValues: aTicks, fontFamily: '"DejaVu Sans",sans-serif', fontSize: 23, color: '#000', margin: 9},
  splitLine: {show: true, showMinLine: false, showMaxLine: false, lineStyle: {type: 'dotted', color: '#c4c4c4', width: 1}},
  minorSplitLine: {show: false}
}];
const yAxes = [{
  type: 'value', gridIndex: 0, min: -0.0006, max: 0.0938, offset: 3, position: 'left',
  axisLine: {show: true, onZero: false, lineStyle: {color: '#000', width: 4}},
  axisTick: {show: true, customValues: aTicks, length: 7, lineStyle: {color: '#000', width: 1.5}},
  minorTick: {show: true, splitNumber: 5, length: 5, lineStyle: {color: '#000', width: 1.5}},
  axisLabel: {customValues: aTicks, fontFamily: '"DejaVu Sans",sans-serif', fontSize: 23, color: '#000', margin: 6},
  splitLine: {show: true, showMinLine: false, showMaxLine: false, lineStyle: {type: 'dotted', color: '#c4c4c4', width: 1}}
}];

logPanels.forEach(p => {
  xAxes.push({
    type: 'log', gridIndex: p.g, min: p.xmin, max: p.xmax, offset: p.xoff, position: 'bottom',
    axisLine: {show: true, lineStyle: {color: '#000', width: 4}},
    axisTick: {show: true, customValues: logXTicks, length: 8, lineStyle: {color: '#000', width: 1.5}},
    axisLabel: {customValues: logXTicks, formatter: logFmt, fontFamily: narrow, fontSize: 15, color: '#000', margin: 14},
    splitLine: {show: false}
  });
  xAxes.push({
    type: 'log', gridIndex: p.g, min: p.xmin, max: p.xmax, offset: p.xoff, position: 'bottom',
    axisLine: {show: false},
    axisTick: {show: true, customValues: logMinorTicks, length: 5, lineStyle: {color: '#000', width: 1.3}},
    axisLabel: {show: false}, splitLine: {show: false}
  });
  yAxes.push({
    type: 'log', gridIndex: p.g, min: p.ymin, max: p.ymax, offset: p.yoff, position: 'left',
    axisLine: {show: true, lineStyle: {color: '#000', width: 3}},
    axisTick: {show: true, customValues: logYTicks, length: 6, lineStyle: {color: '#000', width: 1.5}},
    axisLabel: {customValues: logYTicks, formatter: logFmt, fontFamily: narrow, fontSize: 15, color: '#000', margin: 3},
    splitLine: {show: false}
  });
  yAxes.push({
    type: 'log', gridIndex: p.g, min: p.ymin, max: p.ymax, offset: p.yoff, position: 'left',
    axisLine: {show: false},
    axisTick: {show: true, customValues: logMinorTicks, length: 3.5, lineStyle: {color: '#000', width: 1.3}},
    axisLabel: {show: false}, splitLine: {show: false}
  });
});

function scat(ai, data, color, size, extra) {
  return Object.assign({type: 'scatter', xAxisIndex: ai, yAxisIndex: ai, data: data, symbol: 'circle',
    symbolSize: size, itemStyle: {color: color, opacity: 1}, clip: false, silent: true, z: 2}, extra || {});
}
function line(ai, data, color, w, z) {
  return {type: 'line', xAxisIndex: ai, yAxisIndex: ai, data: data, symbol: 'none', showSymbol: false,
    lineStyle: {color: color, width: w}, clip: false, silent: true, z: z};
}

const dot = [5.5, 7];
const series = [
  line(0, aLine, '#000', 1.5, 1),
  scat(0, aPoints, '#0000ee', 7, {itemStyle: {color: '#0000ee', borderColor: '#000', borderWidth: 1, opacity: 1}}),
  scat(1, colPoints(bColX, bColY).concat(bCloud), '#0000ff', dot),
  line(1, bRed, '#ff0000', 1.8, 3), line(1, bBlue, '#0000ff', 1, 4), line(1, bBlack, '#000', 1.5, 5),
  scat(3, colPoints(cColX, cColY).concat(cCloud), '#ff0000', dot),
  line(3, cRed, '#ff0000', 1.5, 3), line(3, cBlue, '#0000ff', 1.2, 4), line(3, cBlack, '#000', 1.5, 5),
  scat(5, colPoints(dColX, dColY).concat(dCloud), '#0b7a0b', dot),
  line(5, dRed, '#ff0000', 1.8, 3), line(5, dBlue, '#0000ff', 1.2, 4), line(5, dBlack, '#000', 1.5, 5)
];

const capPos = [[178, 217, 348], [795, 836, 348], [175, 216, 731], [793, 834, 731]];
const graphic = [];
captions.forEach((c, i) => {
  const p = capPos[i];
  graphic.push({type: 'text', x: p[0], y: p[2], silent: true,
    style: {text: c[0], font: '26px "Liberation Serif", serif', fill: '#000', textVerticalAlign: 'middle', verticalAlign: 'middle'}});
  graphic.push({type: 'text', x: p[1], y: p[2], silent: true,
    style: {text: c[1], font: '26px "Liberation Serif", serif', fill: '#000', textVerticalAlign: 'middle', verticalAlign: 'middle'}});
});

const chart = echarts.init(document.getElementById('c'), null, {renderer: 'canvas'});
chart.setOption({
  animation: false, backgroundColor: '#fff',
  grid: grids, xAxis: xAxes, yAxis: yAxes, series: series, graphic: graphic
});
</script></body></html>
